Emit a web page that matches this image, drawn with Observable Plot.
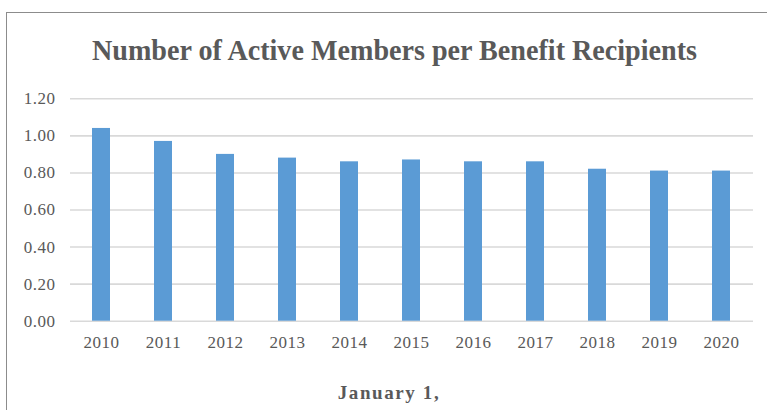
<!DOCTYPE html>
<html>
<head>
<meta charset="utf-8">
<script src="https://cdn.jsdelivr.net/npm/d3@7"></script>
<script src="https://cdn.jsdelivr.net/npm/@observablehq/plot@0.6"></script>
<style>
  html, body { margin: 0; padding: 0; background: #fff; }
  #root { position: relative; width: 767px; height: 410px; overflow: hidden; background: #fff; }
  #frame { position: absolute; left: 6px; top: 12px; width: 900px; height: 600px;
           border-left: 1.5px solid #8c8c8c; border-top: 1.5px solid #8c8c8c; box-sizing: border-box; }
  #chart { position: absolute; left: 0; top: 0; }
  #chart text { letter-spacing: 0.5px; }
  #title { position: absolute; left: 92px; top: 35px; white-space: nowrap;
           font-family: "Liberation Serif", "Times New Roman", serif; font-weight: bold;
           font-size: 30px; line-height: 30px; color: #595959; transform-origin: 0 0; }
  #xlabel { position: absolute; top: 383px; left: 0; width: 778px; text-align: center; white-space: nowrap;
            font-family: "Liberation Serif", "Times New Roman", serif; font-weight: bold;
            font-size: 19px; line-height: 19px; letter-spacing: 1.6px; color: #595959; }
</style>
</head>
<body>
<div id="root">
  <div id="frame"></div>
  <div id="chart"></div>
  <div id="title">Number of Active Members per Benefit Recipients</div>
  <div id="xlabel">January 1,</div>
</div>
<script>
const years = ["2010","2011","2012","2013","2014","2015","2016","2017","2018","2019","2020"];
const ratios = [1.04, 0.97, 0.90, 0.88, 0.86, 0.87, 0.86, 0.86, 0.82, 0.81, 0.81];
const yTicks = [0, 0.2, 0.4, 0.6, 0.8, 1.0, 1.2];

const data = years.map((y, i) => ({year: y, value: ratios[i]}));

const chart = Plot.plot({
  width: 767,
  height: 410,
  marginLeft: 70,
  marginRight: 14,
  marginTop: 98.3,
  marginBottom: 89.3,
  style: {background: "transparent", fontFamily: "'Liberation Serif', 'Times New Roman', serif", fontSize: "17px", color: "#595959"},
  x: {domain: years, paddingInner: 0.705, paddingOuter: 0.3525},
  y: {domain: [0, 1.2]},
  marks: [
    Plot.gridY(yTicks, {stroke: "#d9d9d9", strokeOpacity: 1, strokeWidth: 1.6}),
    Plot.barY(data, {x: "year", y: "value", fill: "#5B9BD5"}),
    Plot.axisY(yTicks, {tickSize: 0, tickPadding: 15, tickFormat: d3.format(".2f"), label: null, fill: "#595959", fontSize: 17}),
    Plot.axisX({tickSize: 0, tickPadding: 15, label: null, fill: "#595959", fontSize: 17})
  ]
});
document.getElementById("chart").appendChild(chart);

const t = document.getElementById("title");
const w = t.getBoundingClientRect().width;
t.style.transform = `scaleX(${605 / w})`;
</script>
</body>
</html>
